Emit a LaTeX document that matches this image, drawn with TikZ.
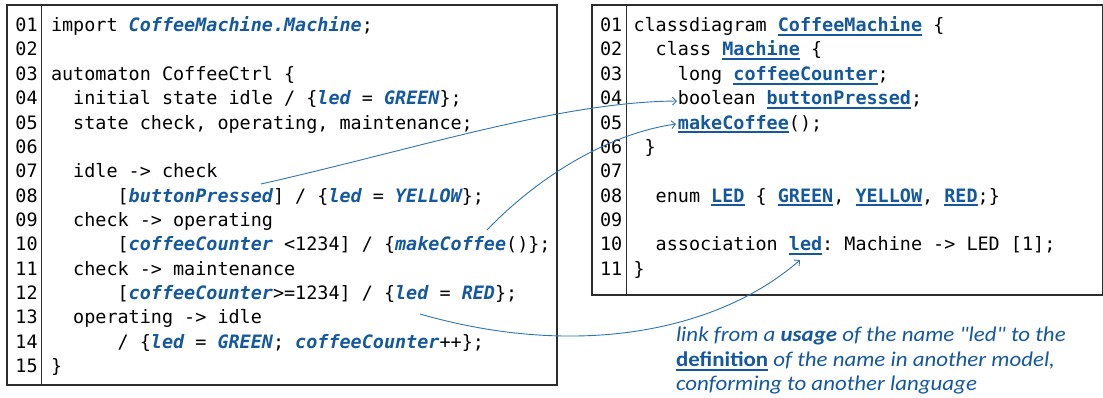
\documentclass[tikz,border=0pt]{standalone}
\usepackage{fontspec}
\setmonofont{DejaVu Sans Mono}
\newfontfamily\capfont[FakeStretch=1.09]{Carlito}
\usetikzlibrary{arrows.meta}
\definecolor{kw}{RGB}{20,88,160}
\definecolor{arr}{RGB}{46,117,182}
\definecolor{frame}{RGB}{45,45,45}
\newcommand\ulw[1]{{\setbox0=\hbox{#1}\rlap{\vrule width\wd0 height -2.2pt depth 4.2pt}\box0}}
\newcommand\ri[1]{{\bfseries\itshape\color{kw}#1}}
\newcommand\rd[1]{{\bfseries\color{kw}\ulw{#1}}}
\newcommand\monof{\ttfamily\fontsize{18.44pt}{22pt}\selectfont\frenchspacing}
\tikzset{
  codeline/.style={anchor=base west, inner sep=0pt, outer sep=0pt, font=\monof},
  frameline/.style={draw=frame, line width=1.1pt},
  link/.style={draw=arr, line width=0.9pt, -{Straight Barb[length=4pt,width=8pt]}},
  captext/.style={anchor=base west, inner sep=0pt, outer sep=0pt, text=kw,
    font=\capfont\fontsize{21pt}{24pt}\selectfont\itshape}
}
\begin{document}
\begin{tikzpicture}[x=1pt,y=-1pt]
\useasboundingbox (0,0) rectangle (1103,397);
% frames
\draw[frameline] (7,5) rectangle (557,385);
\draw[frameline] (41.5,5) -- (41.5,385);
\draw[frameline] (592,5) rectangle (1102.3,295);
\draw[frameline] (626.5,5) -- (626.5,295);
% line numbers
\foreach \n [count=\i from 0] in {01,02,03,04,05,06,07,08,09,10,11,12,13,14,15}
  \node[codeline] (nl\n) at (15.5,31.6+\i*24.35) {\n};
\foreach \n [count=\i from 0] in {01,02,03,04,05,06,07,08,09,10,11}
  \node[codeline] (nr\n) at (600,31.6+\i*24.35) {\n};
% left code
\def\cw{11.1}
\node[codeline] (L1) at (51,31.6) {import \ri{CoffeeMachine.Machine};};
\node[codeline] (L3) at (51,31.6+2*24.35) {automaton CoffeeCtrl \{};
\node[codeline] (L4) at (51+2*\cw,31.6+3*24.35) {initial state idle / \{\ri{led} = \ri{GREEN}\};};
\node[codeline] (L5) at (51+2*\cw,31.6+4*24.35) {state check, operating, maintenance;};
\node[codeline] (L7) at (51+2*\cw,31.6+6*24.35) {idle -> check};
\node[codeline] (L8) at (51+6*\cw,31.6+7*24.35) {[\ri{buttonPressed}] / \{\ri{led} = \ri{YELLOW}\};};
\node[codeline] (L9) at (51+2*\cw,31.6+8*24.35) {check -> operating};
\node[codeline] (L10) at (51+6*\cw,31.6+9*24.35) {[\ri{coffeeCounter} <1234] / \{\ri{makeCoffee}()\};};
\node[codeline] (L11) at (51+2*\cw,31.6+10*24.35) {check -> maintenance};
\node[codeline] (L12) at (51+6*\cw,31.6+11*24.35) {[\ri{coffeeCounter}>=1234] / \{\ri{led} = \ri{RED}\};};
\node[codeline] (L13) at (51+2*\cw,31.6+12*24.35) {operating -> idle};
\node[codeline] (L14) at (51+6*\cw,31.6+13*24.35) {/ \{\ri{led} = \ri{GREEN}; \ri{coffeeCounter}++\};};
\node[codeline] (L15) at (51,31.6+14*24.35) {\}};
% right code
\node[codeline] (R1) at (633.5,31.6) {classdiagram \rd{CoffeeMachine} \{};
\node[codeline] (R2) at (633.5+2*\cw,31.6+1*24.35) {class \rd{Machine} \{};
\node[codeline] (R3) at (633.5+4*\cw,31.6+2*24.35) {long \rd{coffeeCounter};};
\node[codeline] (R4) at (633.5+4*\cw,31.6+3*24.35) {boolean \rd{buttonPressed};};
\node[codeline] (R5) at (633.5+4*\cw,31.6+4*24.35) {\rd{makeCoffee}();};
\node[codeline] (R6) at (633.5+1*\cw,31.6+5*24.35) {\}};
\node[codeline] (R8) at (633.5+2*\cw,31.6+7*24.35) {enum \rd{LED} \{ \rd{GREEN}, \rd{YELLOW}, \rd{RED};\}};
\node[codeline] (R10) at (633.5+2*\cw,31.6+9*24.35) {association \rd{led}: Machine -> LED [1];};
\node[codeline] (R11) at (633.5,31.6+10*24.35) {\}};
% caption
\node[captext] (C1) at (676,341.7) {link from a {\bfseries usage} of the name "led" to the};
\node[captext] (C2) at (676,366.3) {{\upshape\bfseries\ulw{definition}} of the name in another model,};
\node[captext] (C3) at (676,390.5) {conforming to another language};
% link endpoints
\coordinate (s1) at (261,184);
\coordinate (t1) at (677,101);
\coordinate (s2) at (487,230);
\coordinate (t2) at (676,124);
\coordinate (s3) at (420,314);
\coordinate (t3) at (800,260);
\draw[link] (s1) .. controls (420,148) and (560,102) .. (t1);
\draw[link] (s2) .. controls (530,185) and (600,135) .. (t2);
\draw[link] (s3) .. controls (580,360) and (720,330) .. (t3);
\end{tikzpicture}
\end{document}
